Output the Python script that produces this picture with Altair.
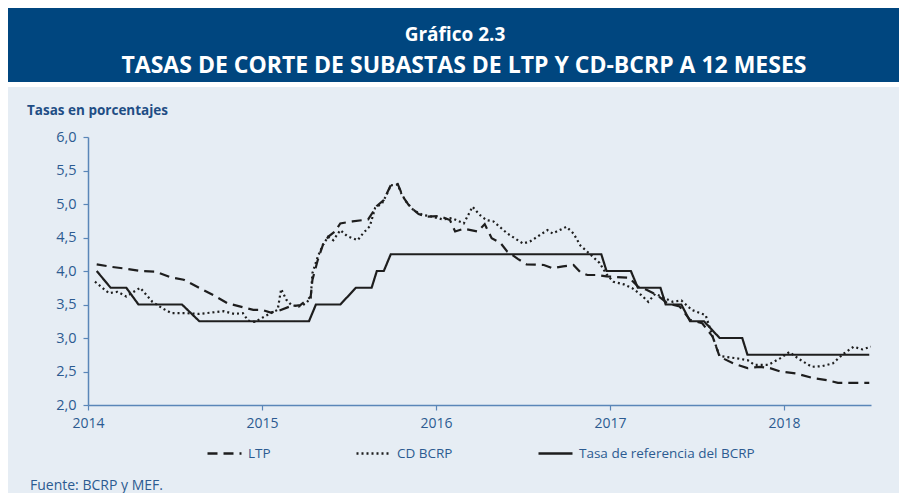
import altair as alt
import pandas as pd

# ---------------- data ----------------
series_names = ["LTP", "CD BCRP", "Tasa de referencia del BCRP"]

ltp_year = [2014.05, 2014.14, 2014.23, 2014.30, 2014.39, 2014.47, 2014.55, 2014.63, 2014.72, 2014.80,
            2014.89, 2014.95, 2015.00, 2015.05, 2015.10, 2015.16, 2015.22, 2015.26, 2015.28, 2015.29,
            2015.32, 2015.35, 2015.38, 2015.42, 2015.45, 2015.52, 2015.61, 2015.66, 2015.70, 2015.74,
            2015.78, 2015.81, 2015.85, 2015.90, 2015.95, 2016.02, 2016.08, 2016.11, 2016.16, 2016.20,
            2016.24, 2016.28, 2016.32, 2016.37, 2016.41, 2016.47, 2016.52, 2016.62, 2016.67, 2016.73,
            2016.79, 2016.83, 2016.87, 2016.93, 2016.98, 2017.04, 2017.11, 2017.16, 2017.21, 2017.27,
            2017.33, 2017.40, 2017.46, 2017.53, 2017.59, 2017.63, 2017.71, 2017.79, 2017.86, 2017.92,
            2017.98, 2018.07, 2018.17, 2018.25, 2018.31, 2018.49]
ltp_val = [4.10, 4.06, 4.03, 4.00, 3.99, 3.91, 3.87, 3.76, 3.64, 3.52,
           3.46, 3.42, 3.42, 3.38, 3.41, 3.47, 3.49, 3.57, 3.62, 3.87,
           4.16, 4.39, 4.51, 4.59, 4.71, 4.74, 4.77, 4.97, 5.06, 5.28,
           5.30, 5.11, 4.96, 4.85, 4.81, 4.82, 4.76, 4.59, 4.63, 4.61,
           4.59, 4.70, 4.49, 4.42, 4.29, 4.18, 4.10, 4.09, 4.04, 4.07,
           4.09, 3.98, 3.94, 3.94, 3.92, 3.91, 3.90, 3.77, 3.72, 3.64,
           3.52, 3.47, 3.27, 3.22, 3.02, 2.72, 2.62, 2.55, 2.57, 2.55,
           2.50, 2.47, 2.40, 2.37, 2.33, 2.33]

cd_year = [2014.04, 2014.12, 2014.17, 2014.22, 2014.30, 2014.37, 2014.43, 2014.48, 2014.57, 2014.64,
           2014.71, 2014.78, 2014.84, 2014.89, 2014.92, 2014.96, 2015.00, 2015.05, 2015.09, 2015.11,
           2015.14, 2015.17, 2015.21, 2015.25, 2015.28, 2015.29, 2015.32, 2015.35, 2015.38, 2015.41,
           2015.45, 2015.49, 2015.55, 2015.58, 2015.62, 2015.65, 2015.69, 2015.72, 2015.74, 2015.78,
           2015.80, 2015.83, 2015.87, 2015.92, 2015.98, 2016.04, 2016.09, 2016.16, 2016.21, 2016.25,
           2016.29, 2016.33, 2016.41, 2016.50, 2016.54, 2016.64, 2016.67, 2016.75, 2016.79, 2016.83,
           2016.89, 2016.94, 2016.98, 2017.02, 2017.08, 2017.13, 2017.18, 2017.22, 2017.26, 2017.31,
           2017.36, 2017.41, 2017.47, 2017.55, 2017.59, 2017.63, 2017.72, 2017.79, 2017.83, 2017.91,
           2017.98, 2018.03, 2018.09, 2018.16, 2018.22, 2018.28, 2018.34, 2018.40, 2018.45, 2018.50]
cd_val = [3.84, 3.67, 3.69, 3.62, 3.75, 3.54, 3.44, 3.37, 3.37, 3.36,
          3.38, 3.40, 3.36, 3.37, 3.26, 3.24, 3.30, 3.37, 3.42, 3.73,
          3.57, 3.49, 3.47, 3.51, 3.60, 3.97, 4.21, 4.39, 4.51, 4.46,
          4.61, 4.52, 4.46, 4.56, 4.67, 4.94, 5.01, 5.16, 5.28, 5.29,
          5.16, 5.03, 4.91, 4.84, 4.81, 4.77, 4.79, 4.71, 4.96, 4.84,
          4.76, 4.74, 4.56, 4.41, 4.44, 4.61, 4.56, 4.66, 4.56, 4.38,
          4.24, 4.12, 3.95, 3.84, 3.80, 3.74, 3.64, 3.54, 3.66, 3.60,
          3.54, 3.56, 3.42, 3.34, 3.02, 2.73, 2.70, 2.67, 2.60, 2.60,
          2.70, 2.79, 2.68, 2.57, 2.58, 2.62, 2.76, 2.87, 2.83, 2.87]

ref_year = [2014.05, 2014.13, 2014.22, 2014.29, 2014.54, 2014.64, 2015.27, 2015.31, 2015.45, 2015.54,
            2015.63, 2015.66, 2015.70, 2015.74, 2016.95, 2016.98, 2017.12, 2017.16, 2017.29, 2017.32,
            2017.41, 2017.46, 2017.54, 2017.63, 2017.76, 2017.79, 2018.49]
ref_val = [4.00, 3.75, 3.75, 3.50, 3.50, 3.25, 3.25, 3.50, 3.50, 3.75,
           3.75, 4.00, 4.00, 4.25, 4.25, 4.00, 4.00, 3.75, 3.75, 3.50,
           3.50, 3.25, 3.25, 3.00, 3.00, 2.75, 2.75]

x_ticks = [2014, 2015, 2016, 2017, 2018]
y_ticks = [2.0, 2.5, 3.0, 3.5, 4.0, 4.5, 5.0, 5.5, 6.0]

title_1 = "Gráfico 2.3"
title_2 = "TASAS DE CORTE DE SUBASTAS DE LTP Y CD-BCRP A 12 MESES"
y_caption = "Tasas en porcentajes"
source = "Fuente: BCRP y MEF."

# ---------------- build table ----------------
frames = []
for name, yrs, vals in [(series_names[0], ltp_year, ltp_val),
                        (series_names[1], cd_year, cd_val),
                        (series_names[2], ref_year, ref_val)]:
    frames.append(pd.DataFrame({"serie": name, "fecha": yrs, "tasa": vals}))
df = pd.concat(frames, ignore_index=True)

# ---------------- style ----------------
W, H = 783, 268
PAD = {"left": 80, "top": 129, "right": 28, "bottom": 88}
BG = "#E6EDF4"
NAVY = "#00467F"
TXT = "#2C5B91"
AX = "#5A86B8"
INK = "#1e1e1e"
FONT = "Open Sans"

one = pd.DataFrame({"k": [0]})

banner = alt.Chart(one).mark_rect(color=NAVY).encode(
    x=alt.value(-80), x2=alt.value(811), y=alt.value(-129), y2=alt.value(-55))
gap = alt.Chart(one).mark_rect(color="white").encode(
    x=alt.value(-80), x2=alt.value(811), y=alt.value(-55), y2=alt.value(-50))

t1 = alt.Chart(pd.DataFrame({"t": [title_1]})).mark_text(
    font=FONT, fontSize=19, fontWeight="bold", color="white", align="center", baseline="alphabetic"
).encode(x=alt.value(367), y=alt.value(-96), text="t:N")
t2 = alt.Chart(pd.DataFrame({"t": [title_2]})).mark_text(
    font=FONT, fontSize=23, fontWeight="bold", color="white", align="center", baseline="alphabetic"
).encode(x=alt.value(376), y=alt.value(-64), text="t:N")

cap = alt.Chart(pd.DataFrame({"t": [y_caption]})).mark_text(
    font=FONT, fontSize=13.5, fontWeight="bold", color="#1F4E85", align="left", baseline="alphabetic"
).encode(x=alt.value(-61), y=alt.value(-22), text="t:N")
src = alt.Chart(pd.DataFrame({"t": [source]})).mark_text(
    font=FONT, fontSize=14, color=TXT, align="left", baseline="alphabetic"
).encode(x=alt.value(-58), y=alt.value(353), text="t:N")

lines = alt.Chart(df).mark_line(strokeWidth=2.2, color=INK, clip=True).encode(
    x=alt.X("fecha:Q",
            scale=alt.Scale(domain=[2014, 2018.5], nice=False, zero=False),
            axis=alt.Axis(values=x_ticks, format="d", title=None, grid=False,
                          labelFlush=False, labelFont=FONT, labelFontSize=14, labelColor=TXT,
                          labelPadding=6, tickSize=5, tickColor=AX, domainColor=AX,
                          domainWidth=1.5, tickWidth=1.2)),
    y=alt.Y("tasa:Q",
            scale=alt.Scale(domain=[2, 6], nice=False, zero=False),
            axis=alt.Axis(values=y_ticks, title=None, grid=False,
                          labelExpr="replace(format(datum.value, '.1f'), '.', ',')",
                          labelFont=FONT, labelFontSize=14.5, labelColor=TXT,
                          labelPadding=7, tickSize=5, tickColor=AX, domainColor=AX,
                          domainWidth=1.5, tickWidth=1.2)),
    strokeDash=alt.StrokeDash(
        "serie:N",
        scale=alt.Scale(domain=series_names, range=[[10, 6], [2, 3], [1, 0]]),
        legend=alt.Legend(title=None, orient="none", legendX=118, legendY=298,
                          direction="horizontal", symbolType="stroke", symbolSize=1156,
                          symbolStrokeWidth=2.4, symbolStrokeColor=INK,
                          labelFont=FONT, labelFontSize=13.5, labelColor=TXT,
                          labelLimit=400, labelOffset=5, columnPadding=80, padding=0)),
    order=alt.Order("fecha:Q"),
)

chart = alt.layer(banner, gap, t1, t2, cap, src, lines).properties(
    width=W, height=H,
    autosize=alt.AutoSizeParams(type="none"),
    padding=PAD,
    background=BG,
).configure_view(stroke=None)

chart.save("out.html", embed_options={"renderer": "svg", "actions": False})
